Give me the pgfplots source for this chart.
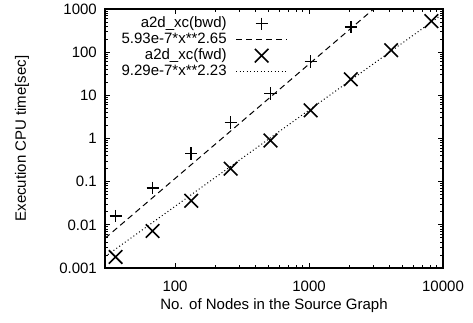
\documentclass[border=0pt]{standalone}
\usepackage{fontspec}
\setmainfont{Liberation Sans}
\usepackage{pgfplots}
\pgfplotsset{compat=1.18}
\pgfplotsset{
 mylegmark/.style={legend image code/.code={\draw[##1] plot coordinates {(25.5pt,0pt)};}},
 myleglinek/.style={legend image code/.code={\draw[##1] (0pt,0pt) -- (51pt,0pt);}},
}
\begin{document}
\fontsize{15}{17}\selectfont
\begin{tikzpicture}
\useasboundingbox (0,0) rectangle (473pt,322pt);
\begin{axis}[
 at={(105pt,54pt)}, anchor=south west,
 scale only axis, width=338pt, height=259pt,
 xmode=log, ymode=log,
 xmin=30, xmax=10000, ymin=0.001, ymax=1000,
 xtick={100,1000,10000}, xticklabels={100,1000,10000},
 ytick={0.001,0.01,0.1,1,10,100,1000},
 yticklabels={0.001,0.01,0.1,1,10,100,1000},
 tick align=inside, major tick length=5pt, minor tick length=3pt,
 axis line style={line width=1.3pt},
 tick style={black, line width=0.9pt},
 xticklabel style={anchor=base, yshift=-23pt},
 yticklabel style={anchor=east, xshift=-3pt},
 xlabel={No. of Nodes in the Source Graph},
 ylabel={Execution CPU time[sec]},
 every axis x label/.style={at={(axis description cs:0.5,-0.162)}, anchor=base},
 every axis y label/.style={at={(axis description cs:-0.2456,0.5)}, rotate=90, anchor=center},
 legend style={at={(0.541,0.975)}, anchor=north east, draw=none, fill=none,
   inner sep=0pt, row sep=0pt, column sep=9pt,
   nodes={inner sep=0pt, text height=11.5pt, text depth=4.5pt},
   font=\fontsize{15}{17}\selectfont},
 legend cell align=right, legend plot pos=right,
]
\addplot[only marks, mark=+, mark size=6.1pt, line width=1.6pt, mylegmark]
 coordinates {(36,0.016) (68,0.072) (132,0.45) (260,2.35) (516,11) (1028,61) (2052,380)};
\addlegendentry{a2d\_xc(bwd)}
\addplot[no marks, line width=1pt, dash pattern=on 6pt off 4pt, myleglinek]
 coordinates {(30,0.00487) (10000,23600)};
\addlegendentry{5.93e-7*x**2.65}
\addplot[only marks, mark=x, mark size=9.6pt, line width=1.6pt, mylegmark]
 coordinates {(36,0.0018) (68,0.0072) (132,0.036) (260,0.2) (516,0.9) (1028,4.5) (2052,23.6) (4100,111) (8196,525)};
\addlegendentry{a2d\_xc(fwd)}
\addplot[no marks, line width=1pt, dash pattern=on 1pt off 2.5pt, myleglinek]
 coordinates {(30,0.00183) (10000,773)};
\addlegendentry{9.29e-7*x**2.23}
\end{axis}
\end{tikzpicture}
\end{document}
